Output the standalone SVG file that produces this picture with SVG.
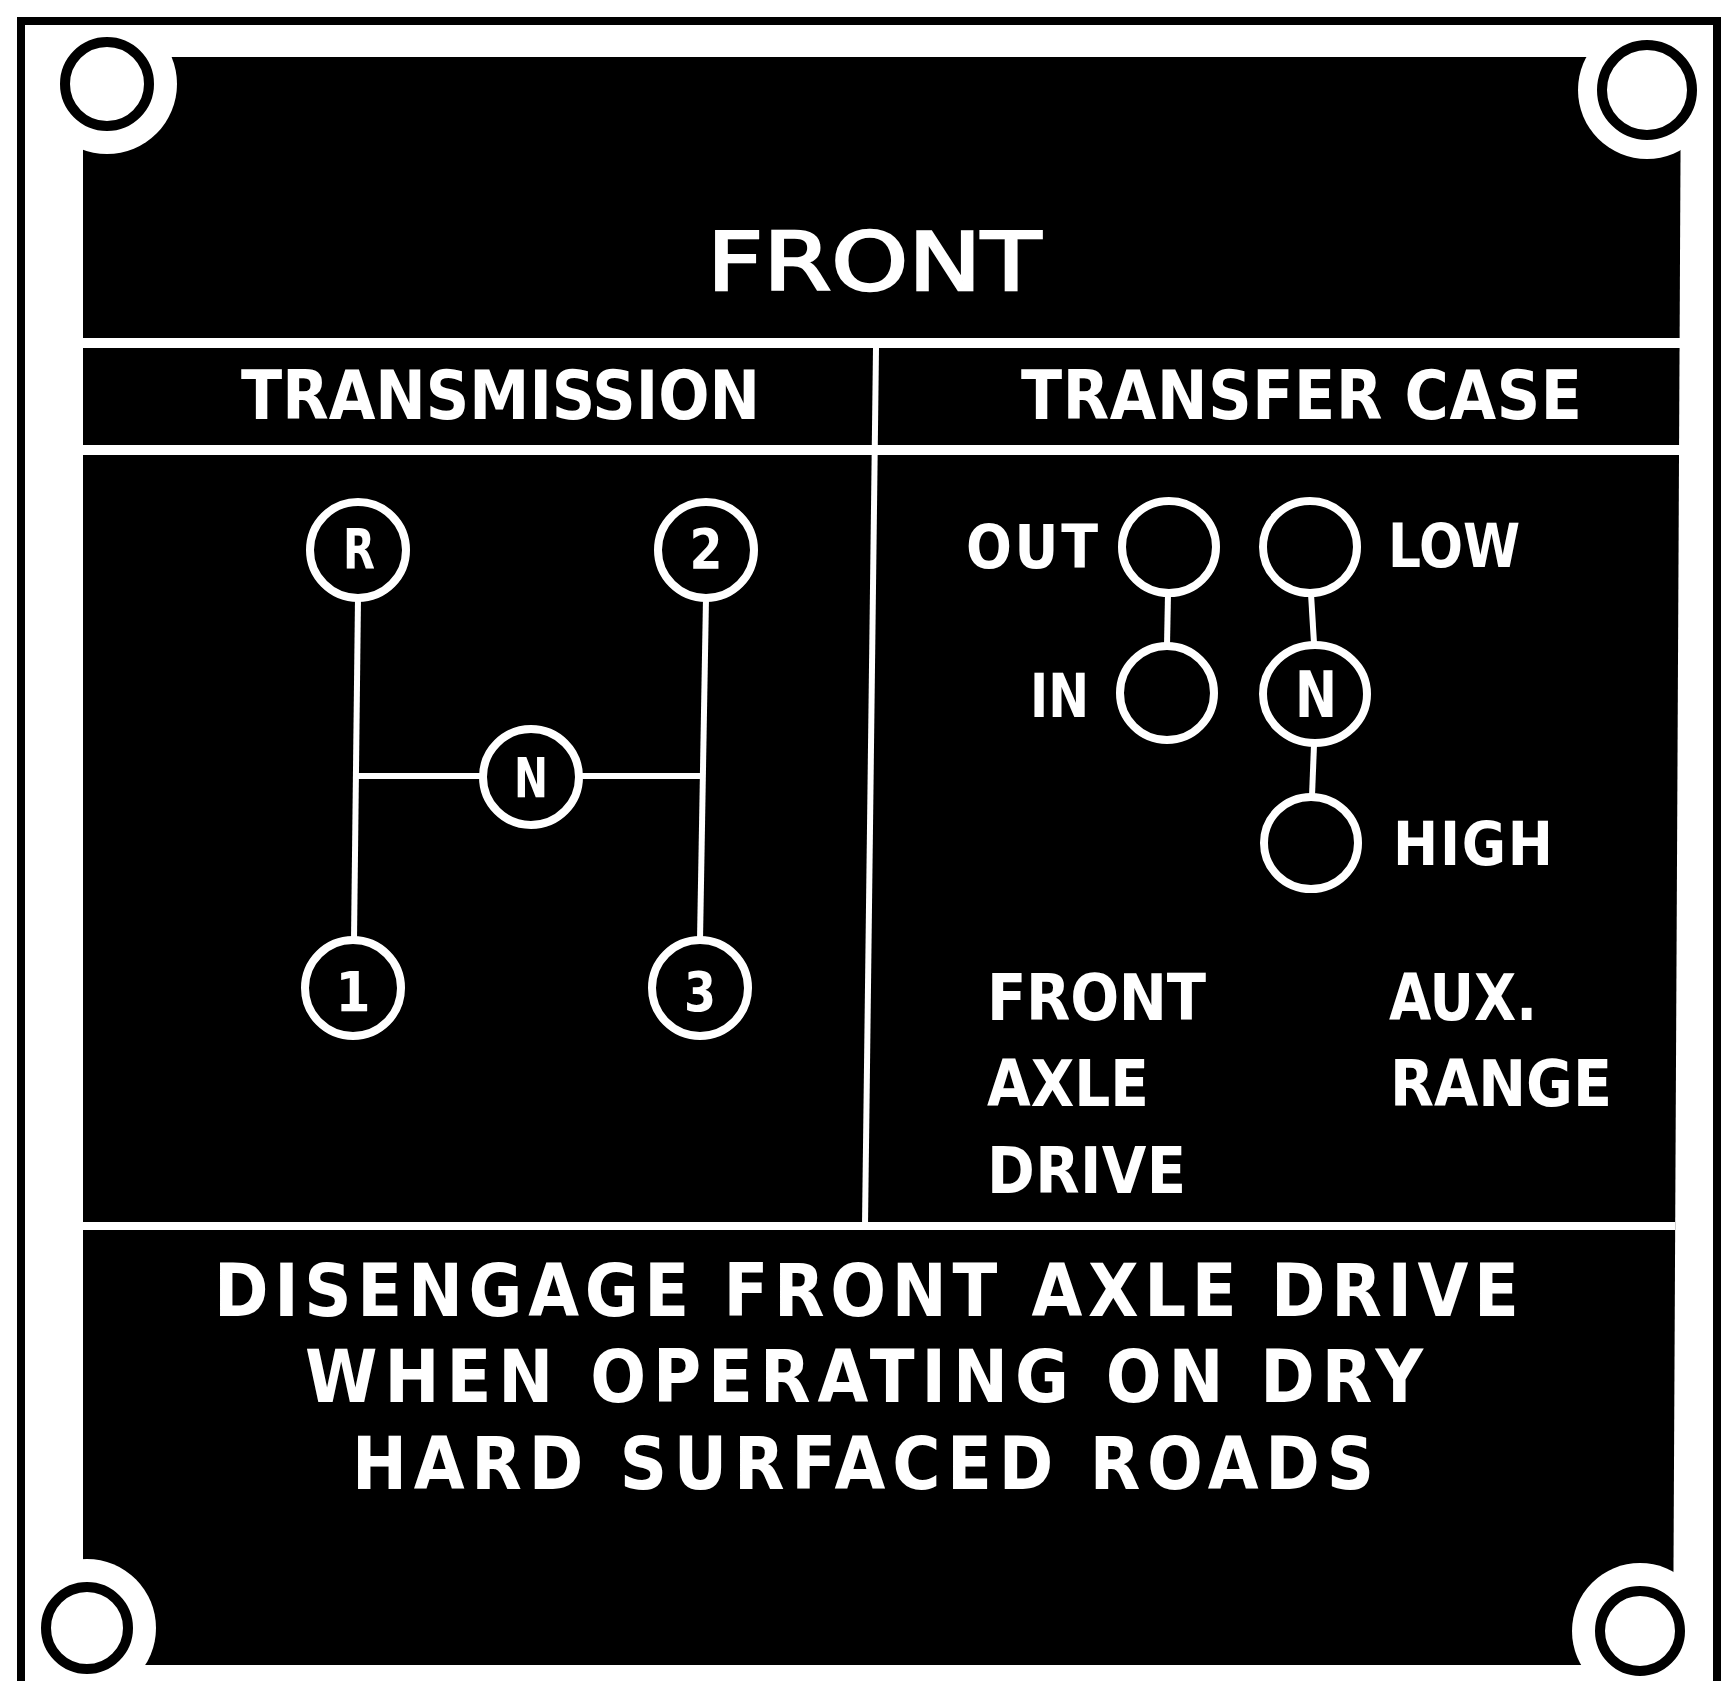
<svg xmlns="http://www.w3.org/2000/svg" width="1723" height="1681" viewBox="0 0 1723 1681">
<style>
.t{font-family:"DejaVu Sans Condensed","DejaVu Sans","Liberation Sans",sans-serif;font-stretch:condensed;font-weight:bold;fill:#fff}
.title{font-family:"DejaVu Sans","Liberation Sans",sans-serif;font-weight:normal;fill:#fff;stroke:#fff;stroke-width:2.5}
.ring{fill:none;stroke:#fff;stroke-width:8}
.conn{fill:none;stroke:#fff;stroke-width:6}
.hole{fill:#fff;stroke:#000;stroke-width:10}
.band{fill:#fff}
</style>
<rect x="0" y="0" width="1723" height="1681" fill="#fff"/>
<g id="plate">
<polygon points="83,57 1681,57 1673,1665 83,1665" fill="#000"/>
<circle cx="107" cy="84" r="70" fill="#fff"/>
<circle cx="1647" cy="90" r="69" fill="#fff"/>
<circle cx="87" cy="1628" r="69" fill="#fff"/>
<circle cx="1640" cy="1631" r="68" fill="#fff"/>
<circle class="hole" cx="107" cy="84" r="42"/>
<circle class="hole" cx="1647" cy="90" r="45"/>
<circle class="hole" cx="87" cy="1628" r="41"/>
<circle class="hole" cx="1640" cy="1631" r="40" stroke-width="9"/>
<rect class="band" x="83" y="338" width="1598" height="10"/>
<rect class="band" x="83" y="445" width="1597" height="10"/>
<rect class="band" x="83" y="1222" width="1592" height="8"/>
<polygon class="band" points="873,348 879,348 868,1226 862,1226"/>
</g>
<path id="frame" d="M21,1681 V21 H1717 V1681" fill="none" stroke="#000" stroke-width="8"/>
<g id="title"><text class="title" x="707" y="290" font-size="80" textLength="334" lengthAdjust="spacingAndGlyphs">FRONT</text></g>
<g id="hdr-transmission"><text class="t" x="241" y="419" font-size="67" textLength="519" lengthAdjust="spacingAndGlyphs">TRANSMISSION</text></g>
<g id="hdr-transfer"><text class="t" x="1021" y="419" font-size="67" textLength="561" lengthAdjust="spacing">TRANSFER CASE</text></g>
<g id="connectors">
<line class="conn" x1="358" y1="598" x2="354" y2="940"/>
<line class="conn" x1="706" y1="598" x2="700" y2="940"/>
<line class="conn" x1="357" y1="776" x2="482" y2="776"/>
<line class="conn" x1="580" y1="776" x2="704" y2="776"/>
<line class="conn" x1="1168" y1="594" x2="1167" y2="645"/>
<line class="conn" x1="1311" y1="594" x2="1314" y2="643"/>
<line class="conn" x1="1314" y1="745" x2="1312" y2="796"/>
</g>
<g id="gear-R"><circle class="ring" cx="358" cy="550" r="48"/><text class="t" x="359" y="568" font-size="56" text-anchor="middle" textLength="32" lengthAdjust="spacingAndGlyphs">R</text></g>
<g id="gear-2"><circle class="ring" cx="706" cy="550" r="48"/><text class="t" x="706" y="568" font-size="56" text-anchor="middle" textLength="33" lengthAdjust="spacingAndGlyphs">2</text></g>
<g id="gear-N"><circle class="ring" cx="531" cy="777" r="48"/><text class="t" x="531" y="797" font-size="56" text-anchor="middle" textLength="34" lengthAdjust="spacingAndGlyphs">N</text></g>
<g id="gear-1"><circle class="ring" cx="353" cy="988" r="48"/><text class="t" x="353" y="1011" font-size="56" text-anchor="middle">1</text></g>
<g id="gear-3"><circle class="ring" cx="700" cy="988" r="48"/><text class="t" x="700" y="1011" font-size="56" text-anchor="middle" textLength="32" lengthAdjust="spacingAndGlyphs">3</text></g>
<g id="tc-out"><ellipse class="ring" cx="1169" cy="547" rx="47" ry="46" stroke-width="6"/><text class="t" x="966" y="568" font-size="60" textLength="132" lengthAdjust="spacing">OUT</text></g>
<g id="tc-in"><ellipse class="ring" cx="1167" cy="693" rx="47" ry="47" stroke-width="6"/><text class="t" x="1030" y="717" font-size="60" textLength="59" lengthAdjust="spacingAndGlyphs">IN</text></g>
<g id="tc-low"><ellipse class="ring" cx="1310" cy="547" rx="47" ry="46" stroke-width="6"/><text class="t" x="1388" y="567" font-size="60" textLength="132" lengthAdjust="spacingAndGlyphs">LOW</text></g>
<g id="tc-n"><ellipse class="ring" cx="1315" cy="694" rx="52" ry="49" stroke-width="8"/><text class="t" x="1316" y="717" font-size="64" text-anchor="middle" textLength="42" lengthAdjust="spacingAndGlyphs">N</text></g>
<g id="tc-high"><ellipse class="ring" cx="1311" cy="843" rx="47" ry="46" stroke-width="6"/><text class="t" x="1393" y="865" font-size="60" textLength="160" lengthAdjust="spacing">HIGH</text></g>
<g id="lbl-front-axle">
<text class="t" x="987" y="1020" font-size="64" textLength="219" lengthAdjust="spacing">FRONT</text>
<text class="t" x="987" y="1106" font-size="64" textLength="162" lengthAdjust="spacingAndGlyphs">AXLE</text>
<text class="t" x="987" y="1193" font-size="64" textLength="199" lengthAdjust="spacing">DRIVE</text>
</g>
<g id="lbl-aux-range">
<text class="t" x="1389" y="1020" font-size="64" textLength="148" lengthAdjust="spacingAndGlyphs">AUX.</text>
<text class="t" x="1390" y="1106" font-size="64" textLength="222" lengthAdjust="spacingAndGlyphs">RANGE</text>
</g>
<g id="warning">
<text class="t" x="214" y="1316" font-size="73" textLength="1305" lengthAdjust="spacing">DISENGAGE FRONT AXLE DRIVE</text>
<text class="t" x="305" y="1402" font-size="73" textLength="1118" lengthAdjust="spacing">WHEN OPERATING ON DRY</text>
<text class="t" x="352" y="1489" font-size="73" textLength="1022" lengthAdjust="spacing">HARD SURFACED ROADS</text>
</g>
</svg>
